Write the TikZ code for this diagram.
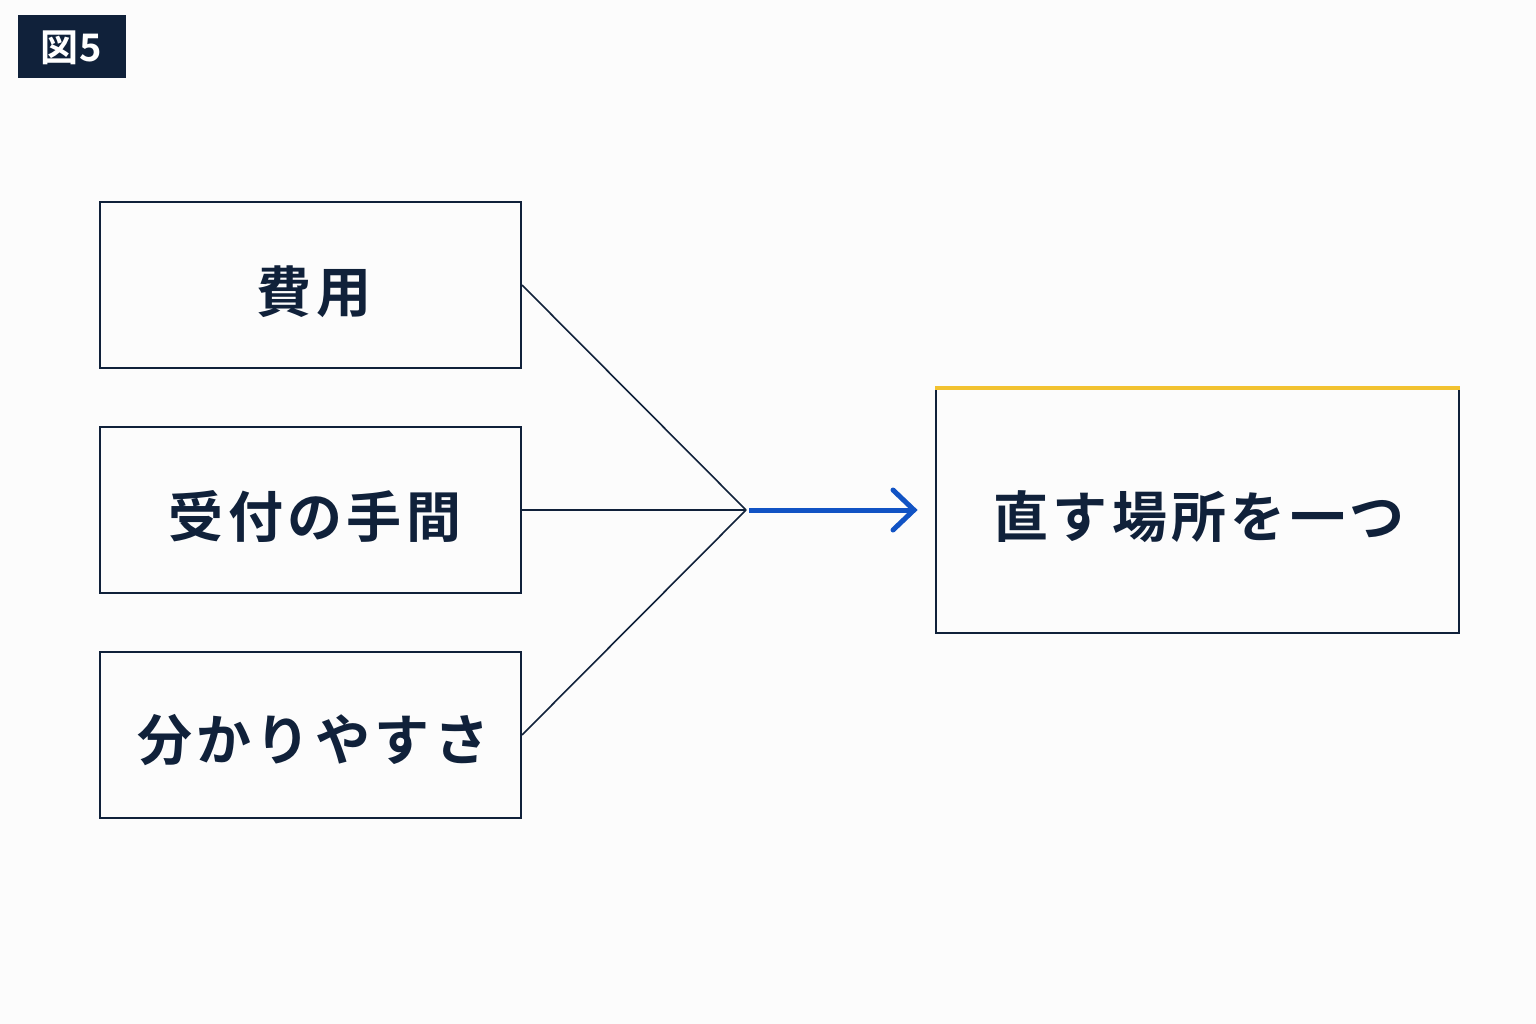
\documentclass[tikz,border=0pt]{standalone}
\usepackage{fontspec}
\newfontfamily\cjk{Noto Sans CJK JP}[BoldFont={* Bold},LetterSpace=8]
\newfontfamily\cjktag{Noto Sans CJK JP}[BoldFont={* Bold},LetterSpace=4]
\definecolor{navy}{HTML}{10213A}
\definecolor{blu}{HTML}{1153C4}
\definecolor{yel}{HTML}{F2C230}
\begin{document}
\begin{tikzpicture}[x=1pt,y=-1pt,
  box/.style={draw=navy,line width=2pt,minimum width=421pt,minimum height=166pt,font=\cjk\bfseries\fontsize{55}{66}\selectfont,text=navy},
  con/.style={draw=navy,line width=1.6pt}]
\fill[white!98!gray] (0,0) rectangle (1536,1024);
\useasboundingbox (0,0) rectangle (1536,1024);
\node[fill=navy,minimum width=108pt,minimum height=63pt,inner sep=0pt] (tag) at (72,46.5) {};
\node[text=white,font=\cjktag\bfseries\fontsize{38}{44}\selectfont] at (71,48) {図5};
\node[box] (a) at (310.5,285) {};
\node[box] (b) at (310.5,510) {};
\node[box] (c) at (310.5,735) {};
\node[box,minimum width=523pt,minimum height=244pt] (r) at (1197.5,511) {};
\draw[yel,line width=4pt] (r.north west) -- (r.north east);
\begin{scope}[every node/.style={font=\cjk\bfseries\fontsize{55}{66}\selectfont,text=navy}]
\node at (314,292) {費用};
\node at (315,517) {受付の手間};
\node at (313,740) {分かりやすさ};
\node at (1199,517) {直す場所を一つ};
\end{scope}
\coordinate (j) at (746,510);
\coordinate (e) at (914,510);
\draw[con] (a.east) -- (j);
\draw[con] (b.east) -- (j);
\draw[con] (c.east) -- (j);
\draw[blu,line width=5pt] (j) ++(3,0) -- (e);
\draw[blu,line width=5pt,line cap=round,line join=miter] (893,490) -- (e) -- (893,530);
\end{tikzpicture}
\end{document}
